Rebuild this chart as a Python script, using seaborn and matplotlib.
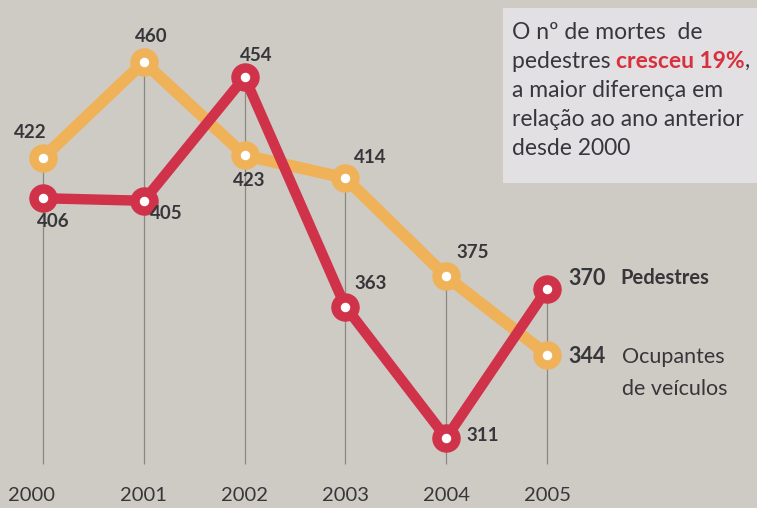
import pandas as pd
import matplotlib
matplotlib.use('Agg')
import matplotlib.pyplot as plt
import seaborn as sns
from matplotlib.patches import Rectangle

# data
years = [2000, 2001, 2002, 2003, 2004, 2005]
pedestres = [406, 405, 454, 363, 311, 370]
ocupantes = [422, 460, 423, 414, 375, 344]
year_labels = ['2000', '2001', '2002', '2003', '2004', '2005']

# label offsets (points) for each value label
ped_offsets = [(7.5, -17), (16.5, -9), (8.5, 15.5), (18, 17), (26, 2)]
ocu_offsets = [(-9.5, 18), (5.5, 18), (3.5, -18), (18, 15), (19, 17)]

BG = '#cecbc4'
RED = '#d0324a'
ORANGE = '#f0b259'
TXT = '#37373b'

sns.set_style('white')
plt.rcParams['font.family'] = ['Lato', 'DejaVu Sans']

df = pd.DataFrame({'ano': years * 2,
                   'valor': ocupantes + pedestres,
                   'serie': ['Ocupantes'] * 6 + ['Pedestres'] * 6})

fig = plt.figure(figsize=(7.57, 5.08), dpi=100, facecolor=BG)
ax = fig.add_axes([0, 0, 1, 1])
ax.set_facecolor(BG)
ax.set_xlim(1999.573, 2007.083)
ax.set_ylim(283.23, 484.57)
ax.axis('off')

# vertical guide lines from the upper point down to the base
tops = [max(a, b) for a, b in zip(pedestres, ocupantes)]
ax.vlines(years, 300.5, tops, color='#8a8883', lw=0.9, zorder=1)

sns.lineplot(data=df[df.serie == 'Ocupantes'], x='ano', y='valor', color=ORANGE,
             lw=8.5, ax=ax, zorder=2, solid_capstyle='round', solid_joinstyle='round')
sns.lineplot(data=df[df.serie == 'Pedestres'], x='ano', y='valor', color=RED,
             lw=7.5, ax=ax, zorder=3, solid_capstyle='round', solid_joinstyle='round')
ax.plot(years, ocupantes, 'o', ms=19.5, color=ORANGE, zorder=4)
ax.plot(years, pedestres, 'o', ms=19.5, color=RED, zorder=5)
ax.plot(years, ocupantes, 'o', ms=5.8, color='white', zorder=6)
ax.plot(years, pedestres, 'o', ms=5.8, color='white', zorder=6)

for x, v, off in zip(years[:-1], pedestres[:-1], ped_offsets):
    ax.annotate(str(v), (x, v), xytext=off, textcoords='offset points',
                ha='center', va='center', fontsize=13.5, fontweight='bold', color=TXT, zorder=7)
for x, v, off in zip(years[:-1], ocupantes[:-1], ocu_offsets):
    ax.annotate(str(v), (x, v), xytext=off, textcoords='offset points',
                ha='center', va='center', fontsize=13.5, fontweight='bold', color=TXT, zorder=7)

# end labels
ax.annotate(str(pedestres[-1]), (years[-1], pedestres[-1]), xytext=(15, 7.5),
            textcoords='offset points', ha='left', va='center', fontsize=15.5,
            fontweight='bold', color=TXT)
ax.annotate('Pedestres', (years[-1], pedestres[-1]), xytext=(52.5, 8),
            textcoords='offset points', ha='left', va='center', fontsize=14.5,
            fontweight='bold', color=TXT)
ax.annotate(str(ocupantes[-1]), (years[-1], ocupantes[-1]), xytext=(15, -1.5),
            textcoords='offset points', ha='left', va='center', fontsize=15.5,
            fontweight='bold', color=TXT)
ax.annotate('Ocupantes', (years[-1], ocupantes[-1]), xytext=(54, -1.5),
            textcoords='offset points', ha='left', va='center', fontsize=15.5, color=TXT)
ax.annotate('de veículos', (years[-1], ocupantes[-1]), xytext=(54, -24.5),
            textcoords='offset points', ha='left', va='center', fontsize=15.5, color=TXT)

for x, lab in zip(years, year_labels):
    ax.text(x - (0.11 if x == 2000 else 0.0), 288.0, lab, ha='center', va='center',
            fontsize=14.5, color=TXT)

# note box at top right
ax.add_patch(Rectangle((503 / 757, 1 - 183 / 508), 254 / 757, 175 / 508,
                       transform=fig.transFigure, facecolor='#e3e0e4',
                       edgecolor='none', zorder=0, clip_on=False))
x0 = 512 / 757
kw = dict(fontsize=16.5, color=TXT, transform=fig.transFigure, va='baseline', zorder=8)
ax.text(x0, 1 - 39 / 508, 'O nº de mortes  de', **kw)
t = ax.text(x0, 1 - 68 / 508, 'pedestres ', **kw)
a = ax.annotate('cresceu 19%', xy=(1, 0), xycoords=t, va='bottom', ha='left',
                fontsize=16.5, fontweight='bold', color='#d8303c', zorder=8)
ax.annotate(',', xy=(1, 0), xycoords=a, va='bottom', ha='left', fontsize=16.5,
            color=TXT, zorder=8)
ax.text(x0, 1 - 97 / 508, 'a maior diferença em', **kw)
ax.text(x0, 1 - 126 / 508, 'relação ao ano anterior', **kw)
ax.text(x0, 1 - 155 / 508, 'desde 2000', **kw)

fig.savefig('out.png', dpi=100, facecolor=BG)
